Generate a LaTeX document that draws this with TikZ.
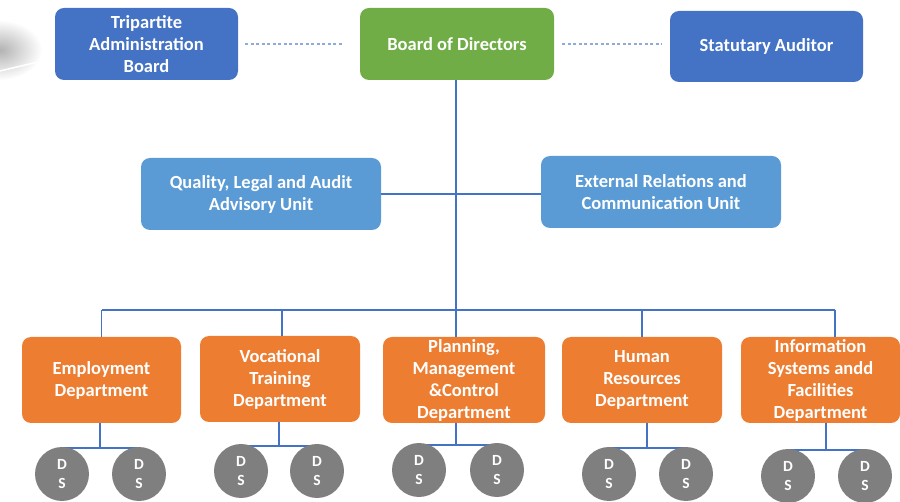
\documentclass[tikz,border=0pt]{standalone}
\usepackage{fontspec}
\setmainfont{Carlito}
\definecolor{topblue}{HTML}{4472C4}
\definecolor{midblue}{HTML}{5B9BD5}
\definecolor{boardgreen}{HTML}{70AD47}
\definecolor{deporange}{HTML}{ED7D31}
\definecolor{dsgray}{HTML}{7F7F7F}
\definecolor{linec}{HTML}{4472C4}
\definecolor{dashc}{HTML}{8FAADC}
\begin{document}
\begin{tikzpicture}[x=1pt,y=-1pt,
  box/.style={rounded corners=9pt, inner sep=0pt, align=center, text=white,
    font=\bfseries\fontsize{18.5}{22}\selectfont},
  ds/.style={circle, fill=dsgray, minimum size=54pt, inner sep=0pt, text=white,
    align=center, font=\bfseries\fontsize{15.5}{18.5}\selectfont},
  conn/.style={draw=linec, line width=1.1pt},
  dconn/.style={draw=dashc, line width=1.1pt, dash pattern=on 3pt off 2.5pt}]
\useasboundingbox (0,0) rectangle (900,502);
% faint shadow fragment at left edge
\shade[inner color=gray!60, outer color=white] (0,50) ellipse (42 and 30);
\draw[white, line width=1.5pt] (0,71) -- (38,62);
% top row
\node[box, fill=topblue, minimum width=183pt, minimum height=72pt] (trip) at (146.5,44) {Tripartite\\Administration\\Board};
\node[box, fill=boardgreen, minimum width=194pt, minimum height=72pt] (bod) at (457,44) {Board of Directors};
\node[box, fill=topblue, minimum width=193pt, minimum height=71pt] (aud) at (766.5,46.5) {Statutary Auditor};
% advisory units
\node[box, fill=midblue, minimum width=240pt, minimum height=72pt] (qual) at (261,194) {Quality, Legal and Audit\\Advisory Unit};
\node[box, fill=midblue, minimum width=240pt, minimum height=72pt] (ext) at (661,192) {External Relations and\\Communication Unit};
% departments
\node[box, fill=deporange, minimum width=159pt, minimum height=86pt] (emp) at (101.5,380) {Employment\\Department};
\node[box, fill=deporange, minimum width=160pt, minimum height=86pt] (voc) at (280,379) {Vocational\\Training\\Department};
\node[box, fill=deporange, minimum width=162pt, minimum height=86pt] (plan) at (464,380) {Planning,\\Management\\\&Control\\Department};
\node[box, fill=deporange, minimum width=160pt, minimum height=86pt] (hr) at (642,380) {Human\\Resources\\Department};
\node[box, fill=deporange, minimum width=159pt, minimum height=86pt] (info) at (820.5,380) {Information\\Systems andd\\Facilities\\Department};
% dashed links
\draw[dconn] ([xshift=7pt]trip.east) -- ([xshift=-18pt]bod.west);
\draw[dconn] ([xshift=8pt]bod.east) -- ([xshift=-8pt]aud.west |- bod.east);
% main trunk
\coordinate (bus) at (0,310);
\coordinate (infodrop) at (835,0);
\coordinate (vocdrop) at (282,0);
\coordinate (trunk) at (456,0);
\draw[conn] (bod.south -| trunk) -- (plan.north -| trunk);
\draw[conn] (qual.east) -- (qual.east -| ext.west);
\draw[conn] (emp.north |- bus) -- (infodrop |- bus);
\draw[conn] (emp.north |- bus) -- (emp.north);
\draw[conn] (vocdrop |- bus) -- (vocdrop |- voc.north);
\draw[conn] (hr.north |- bus) -- (hr.north);
\draw[conn] (infodrop |- bus) -- (infodrop |- info.north);
% sub-units
\coordinate (ej) at (100,448);
\coordinate (vj) at (279,446);
\coordinate (pj) at (456,445);
\coordinate (hj) at (647,448);
\coordinate (ij) at (826,450);
\coordinate (e1) at (62,474);  \coordinate (e2) at (139,474);
\coordinate (v1) at (241,471); \coordinate (v2) at (317,471);
\coordinate (p1) at (419,470); \coordinate (p2) at (497,470);
\coordinate (h1) at (609,474); \coordinate (h2) at (686,474);
\coordinate (i1) at (788,476); \coordinate (i2) at (865,476);
\draw[conn] (ej |- emp.south) -- (ej);
\draw[conn] (vj |- voc.south) -- (vj);
\draw[conn] (pj |- plan.south) -- (pj);
\draw[conn] (hj |- hr.south) -- (hj);
\draw[conn] (ij |- info.south) -- (ij);
\draw[conn] (e1 |- ej) -- (e2 |- ej);
\draw[conn] (v1 |- vj) -- (v2 |- vj);
\draw[conn] (p1 |- pj) -- (p2 |- pj);
\draw[conn] (h1 |- hj) -- (h2 |- hj);
\draw[conn] (i1 |- ij) -- (i2 |- ij);
\node[ds] (de1) at (e1) {D\\S};
\node[ds] (de2) at (e2) {D\\S};
\node[ds] (dv1) at (v1) {D\\S};
\node[ds] (dv2) at (v2) {D\\S};
\node[ds] (dp1) at (p1) {D\\S};
\node[ds] (dp2) at (p2) {D\\S};
\node[ds] (dh1) at (h1) {D\\S};
\node[ds] (dh2) at (h2) {D\\S};
\node[ds] (di1) at (i1) {D\\S};
\node[ds] (di2) at (i2) {D\\S};
\end{tikzpicture}
\end{document}
